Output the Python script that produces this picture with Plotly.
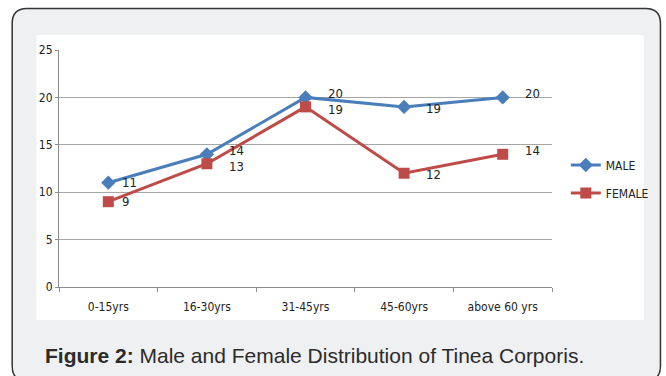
import plotly.graph_objects as go

categories = ["0-15yrs", "16-30yrs", "31-45yrs", "45-60yrs", "above 60 yrs"]
male = [11, 14, 20, 19, 20]
female = [9, 13, 19, 12, 14]

# label offsets (px) – styling only
male_dx = [12, 20, 20, 20, 20]
male_dy = [0, 4, 4, -2, 4]
female_dx = [12, 20, 20, 20, 20]
female_dy = [0, -3, -3, -1, 4]

W, H = 666, 376
L, R, T, B = 59, 559, 50, 287


def px(X):
    return (X - L) / (R - L)


def py(Y):
    return (B - Y) / (B - T)


MALE_C = "#4A7EBB"
FEMALE_C = "#BE4B48"
NARROW = "DejaVu Sans Condensed, Liberation Sans Narrow, Roboto Condensed, Roboto, sans-serif"

fig = go.Figure()
fig.add_trace(go.Scatter(
    x=categories, y=male, name="MALE", mode="lines+markers",
    line=dict(color=MALE_C, width=3),
    marker=dict(symbol="diamond", size=11, color=MALE_C),
    legendgroup="m",
))
fig.add_trace(go.Scatter(
    x=categories, y=female, name="FEMALE", mode="lines+markers",
    line=dict(color=FEMALE_C, width=3),
    marker=dict(symbol="square", size=11, color=FEMALE_C),
    legendgroup="f",
))

annotations = []
for vals, dxs, dys in ((male, male_dx, male_dy), (female, female_dx, female_dy)):
    for c, v, dx, dy in zip(categories, vals, dxs, dys):
        annotations.append(dict(
            x=c, y=v, xref="x", yref="y", text=str(v), showarrow=False,
            xanchor="left", yanchor="middle", xshift=dx, yshift=dy,
            font=dict(family=NARROW, size=13, color="#222"),
        ))

annotations.append(dict(
    x=px(43), y=py(355), xref="paper", yref="paper", xanchor="left", yanchor="middle",
    text="<b>Figure 2:</b> Male and Female Distribution of Tinea Corporis.",
    showarrow=False, font=dict(family="Liberation Sans, Arial, sans-serif", size=21, color="#2b2b2b"),
))

# rounded card path (runs off the right and bottom edges, as in the original)
x0, x1, y0, y1, r = 11.5, 669, 8.5, 381, 15
path = (
    f"M {px(x0)},{py(y0 + r)} "
    f"Q {px(x0)},{py(y0)} {px(x0 + r)},{py(y0)} "
    f"L {px(x1 - r)},{py(y0)} "
    f"Q {px(x1)},{py(y0)} {px(x1)},{py(y0 + r)} "
    f"L {px(x1)},{py(y1 - r)} "
    f"Q {px(x1)},{py(y1)} {px(x1 - r)},{py(y1)} "
    f"L {px(x0 + r)},{py(y1)} "
    f"Q {px(x0)},{py(y1)} {px(x0)},{py(y1 - r)} Z"
)

shapes = [
    dict(type="path", xref="paper", yref="paper", path=path,
         fillcolor="#EFF0F1", line=dict(color="#333", width=1.5), layer="below"),
    dict(type="rect", xref="paper", yref="paper",
         x0=px(36), x1=px(652), y0=py(35), y1=py(320),
         fillcolor="white", line=dict(width=0), layer="below"),
]

fig.update_layout(
    width=W, height=H, autosize=False,
    margin=dict(l=L, r=W - R, t=T, b=H - B, pad=0),
    paper_bgcolor="white", plot_bgcolor="rgba(0,0,0,0)",
    shapes=shapes, annotations=annotations,
    showlegend=True,
    legend=dict(
        x=px(573), y=py(179), xanchor="left", yanchor="middle",
        bgcolor="rgba(0,0,0,0)", font=dict(family=NARROW, size=12, color="#222"),
        tracegroupgap=9, itemwidth=30, traceorder="grouped",
    ),
    xaxis=dict(
        type="category", range=[-0.5, 4.5], showgrid=False,
        showline=True, linecolor="#8C8C8C", linewidth=1,
        ticks="outside", tickson="boundaries", ticklen=4, tickcolor="#8C8C8C",
        ticklabelstandoff=9,
        tickfont=dict(family=NARROW, size=12, color="#222"),
        fixedrange=True,
    ),
    yaxis=dict(
        range=[0, 25], tickvals=[0, 5, 10, 15, 20, 25],
        showgrid=True, gridcolor="#A6A6A6", gridwidth=1,
        showline=True, linecolor="#8C8C8C", linewidth=1,
        ticks="outside", ticklen=3, tickcolor="#8C8C8C",
        tickfont=dict(family=NARROW, size=12, color="#222"),
        zeroline=False, fixedrange=True,
    ),
)

fig.write_html(
    "out.html",
    config={"responsive": False, "displayModeBar": False},
    default_width="666px", default_height="376px",
    post_script=(
        "document.documentElement.style.overflow='hidden';"
        "document.body.style.margin='0';document.body.style.overflow='hidden';"
    ),
)
